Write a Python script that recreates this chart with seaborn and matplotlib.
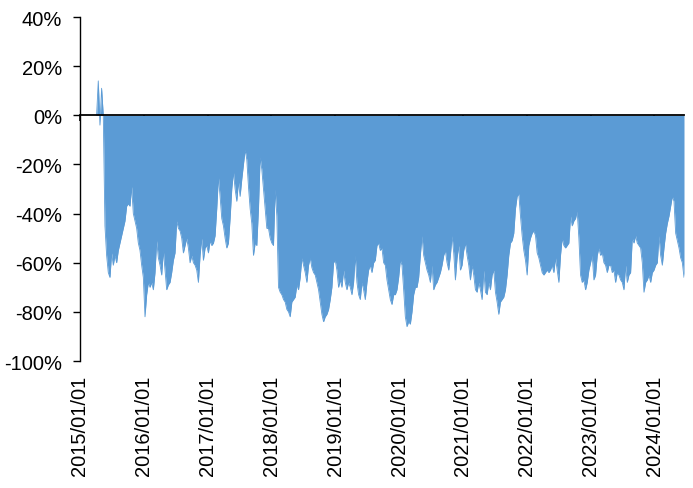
import matplotlib
matplotlib.use("Agg")
import matplotlib.pyplot as plt
import matplotlib.dates as mdates
from matplotlib.ticker import FuncFormatter, FixedLocator
import numpy as np
import pandas as pd
import seaborn as sns

sns.set_theme(style="white")
plt.rcParams['font.family'] = ['Liberation Sans', 'DejaVu Sans']

# ---- data ----
start_date = "2015-04-06"
end_date = "2024-06-19"
axis_start = "2015-01-01"

drawdown_pct = [
    # 2015 Apr -> 2016 Apr
    0, 14, -4, 11, 0, -45, -57, -64, -66, -56, -61, -57, -60, -55, -52, -49, -46, -43, -37,
    -36, -37, -29, -40, -43, -46, -52, -55, -61, -66, -82, -73, -68, -70, -68, -71, -64, -51, -58,
    # 2016 Apr -> 2017 Jun
    -61, -65, -55, -63, -71, -69, -68, -64, -59, -56, -43, -46, -47, -50, -56, -53, -50, -54, -60,
    -57, -60, -61, -63, -68, -57, -50, -59, -54, -53, -56, -51, -53, -52, -49, -38, -25, -33, -42,
    -45, -50, -54, -52, -42, -30, -23,
    # 2017 Jun -> 2018 Aug
    -30, -35, -27, -33, -26, -20, -14, -18, -29, -38, -44, -57, -52, -53, -38, -17, -22, -30, -38,
    -46, -46, -50, -52, -53, -30, -41, -70, -72, -73, -75, -76, -79, -80, -82, -76, -75, -74, -69,
    -71, -66, -58, -61, -64, -68, -61,
    # 2018 Aug -> 2019 Oct
    -58, -62, -64, -65, -68, -71, -76, -81, -84, -82, -81, -79, -75, -70, -60, -59, -63, -70, -67,
    -70, -63, -68, -71, -68, -70, -73, -68, -57, -68, -73, -75, -68, -71, -75, -68, -63, -61, -64,
    -60, -59, -53, -52, -55, -54, -60,
    # 2019 Oct -> 2020 Dec
    -61, -67, -71, -75, -77, -73, -73, -71, -66, -59, -61, -71, -82, -86, -84, -85, -80, -73, -70,
    -70, -66, -57, -49, -57, -60, -63, -65, -68, -61, -71, -69, -68, -66, -64, -61, -57, -55, -60,
    -63, -57, -49, -56, -67, -58, -53,
    # 2020 Dec -> 2022 Feb
    -63, -61, -55, -52, -57, -61, -67, -61, -65, -71, -72, -68, -71, -75, -63, -72, -73, -68, -71,
    -65, -63, -72, -76, -81, -76, -75, -74, -71, -65, -57, -52, -51, -48, -38, -33, -32, -41, -49,
    -55, -59, -65, -53, -50, -48, -47,
    # 2022 Feb -> 2023 Apr
    -49, -56, -58, -61, -64, -65, -64, -63, -64, -63, -61, -64, -58, -63, -68, -57, -50, -53, -54,
    -53, -52, -41, -45, -43, -42, -39, -50, -65, -68, -67, -71, -68, -63, -60, -57, -67, -65, -57,
    -54, -57, -56, -60, -61, -64, -61,
    # 2023 Apr -> 2024 Jun
    -61, -64, -63, -68, -64, -65, -67, -68, -71, -61, -68, -65, -64, -50, -52, -49, -52, -53, -54,
    -60, -72, -68, -67, -65, -68, -64, -63, -61, -60, -49, -57, -61, -54, -48, -44, -41, -37, -33,
    -35, -48, -51, -54, -58, -60, -66,
]

y_ticks = [-100, -80, -60, -40, -20, 0, 20, 40]
date_label_format = "%Y/%m/%d"

dates = pd.date_range(start_date, end_date, periods=len(drawdown_pct))
df = pd.DataFrame({"date": dates, "value": drawdown_pct})

# ---- figure ----
W, H = 693, 489
fig = plt.figure(figsize=(W / 100, H / 100), dpi=100)
ax = fig.add_axes([80 / W, 1 - 362 / H, (684 - 80) / W, (362 - 18) / H])

color = "#5B9BD5"
ax.fill_between(df["date"], df["value"], 0, color=color, linewidth=0, zorder=1)
sns.lineplot(data=df, x="date", y="value", ax=ax, color=color, linewidth=0.6, zorder=1.5)

ax.set_xlim(pd.Timestamp(axis_start), dates[-1])
ax.set_ylim(-100, 40)
ax.set_xlabel("")
ax.set_ylabel("")

# y axis
ax.yaxis.set_major_locator(FixedLocator(y_ticks))
ax.yaxis.set_major_formatter(FuncFormatter(lambda v, p: f"{v:.0f}%"))
ax.tick_params(axis="y", direction="out", length=5, width=1, color="black",
               labelsize=14.5, pad=8, labelcolor="black", left=True)

for s in ["top", "right"]:
    ax.spines[s].set_visible(False)
ax.spines["left"].set_color("black")
ax.spines["left"].set_linewidth(1.0)

# zero line with year ticks
ax.spines["bottom"].set_position(("data", 0))
ax.spines["bottom"].set_color("black")
ax.spines["bottom"].set_linewidth(1.3)
ax.spines["bottom"].set_zorder(3)
ax.xaxis.set_major_locator(mdates.YearLocator())
ax.tick_params(axis="x", direction="out", length=4.5, width=1.2, color="black",
               labelbottom=False, bottom=True)

# date labels at the bottom of the plot area
sec = ax.secondary_xaxis("bottom")
sec.xaxis.set_major_locator(mdates.YearLocator())
sec.xaxis.set_major_formatter(mdates.DateFormatter(date_label_format))
sec.spines["bottom"].set_visible(False)
sec.tick_params(axis="x", length=0, pad=10, labelsize=14.5, labelrotation=90, labelcolor="black")

ax.grid(False)
fig.savefig("out.png", dpi=100)
